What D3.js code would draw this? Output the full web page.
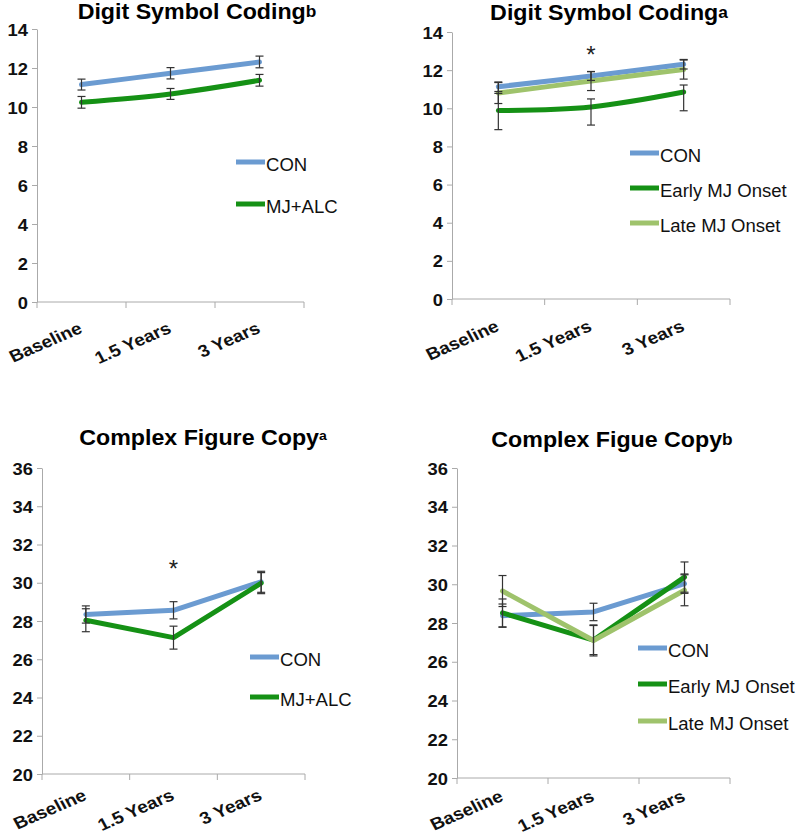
<!DOCTYPE html>
<html><head><meta charset="utf-8">
<script src="https://cdn.jsdelivr.net/npm/d3@7"></script>
<style>body{margin:0;background:#fff}svg{display:block}</style>
</head><body>
<svg id="c" width="800" height="836"></svg>
<script>
// ---------- DATA ----------
const categories = ["Baseline", "1.5 Years", "3 Years"];
const yTicksDSC = [0, 2, 4, 6, 8, 10, 12, 14];
const yTicksCFC = [20, 22, 24, 26, 28, 30, 32, 34, 36];

// Panel A: Digit Symbol Coding (b) - CON vs MJ+ALC
const dscCON = [11.15, 11.73, 12.31];
const dscCONerr = [0.28, 0.29, 0.30];
const dscMJ = [10.24, 10.67, 11.37];
const dscMJerr = [0.30, 0.28, 0.30];

// Panel B: Digit Symbol Coding (a) - CON / Early / Late
const dsc2CON = [11.13, 11.69, 12.31];
const dsc2CONup = [0.25, 0.23, 0.25];
const dsc2CONdn = [0.25, 0.23, 0.25];
const dsc2Early = [9.88, 10.07, 10.85];
const dsc2EarlyUp = [0.90, 0.42, 0.37];
const dsc2EarlyDn = [1.00, 0.95, 0.98];
const dsc2Late = [10.80, 11.43, 12.03];
const dsc2LateErr = [0.55, 0.50, 0.50];

// Panel C: Complex Figure Copy (a) - CON vs MJ+ALC
const cfcCON = [28.34, 28.56, 30.05];
const cfcCONerr = [0.45, 0.45, 0.55];
const cfcMJ = [28.04, 27.13, 29.98];
const cfcMJerr = [0.60, 0.60, 0.55];

// Panel D: Complex Figue Copy (b) - CON / Early / Late
const cfc2CON = [28.38, 28.57, 30.03];
const cfc2CONerr = [0.60, 0.45, 0.50];
const cfc2Early = [28.52, 27.12, 30.37];
const cfc2EarlyErr = [0.72, 0.75, 0.78];
const cfc2Late = [29.65, 27.10, 29.69];
const cfc2LateErr = [0.80, 0.80, 0.80];

const titles = ["Digit Symbol Coding", "Digit Symbol Coding", "Complex Figure Copy", "Complex Figue Copy"];
const titleSup = ["b", "a", "a", "b"];
const legend2 = ["CON", "MJ+ALC"];
const legend3 = ["CON", "Early MJ Onset", "Late MJ Onset"];

// ---------- STYLE ----------
const COL = { con: "#6b9bd1", early: "#159115", late: "#9fc36c" };
const FONT = "'Liberation Sans', Arial, Helvetica, sans-serif";

const svg = d3.select("#c");

function mkSeries(vals, up, dn, color) {
  return { vals, up, dn: dn || up, color };
}

const panels = [
  {
    x0: 37, x1: 304, yTop: 29, yBot: 302, domain: [0, 14], ticks: yTicksDSC,
    title: titles[0], sup: titleSup[0], titleX: 197, titleY: 19, supSize: 16, supDy: -2,
    curve: d3.curveCatmullRom, labY: 30,
    series: [mkSeries(dscCON, dscCONerr, null, COL.con), mkSeries(dscMJ, dscMJerr, null, COL.early)],
    legend: legend2, legX: 236, legY: [162, 204],
    star: null
  },
  {
    x0: 452, x1: 730, yTop: 32, yBot: 299, domain: [0, 14], ticks: yTicksDSC,
    title: titles[1], sup: titleSup[1], titleX: 609, titleY: 20, supSize: 16, supDy: -2,
    curve: d3.curveCatmullRom, labY: 31,
    series: [mkSeries(dsc2CON, dsc2CONup, dsc2CONdn, COL.con), mkSeries(dsc2Early, dsc2EarlyUp, dsc2EarlyDn, COL.early), mkSeries(dsc2Late, dsc2LateErr, null, COL.late)],
    legend: legend3, legX: 630, legY: [153, 188, 223],
    star: { cat: 1, y: 63 }
  },
  {
    x0: 42, x1: 305, yTop: 468, yBot: 774, domain: [20, 36], ticks: yTicksCFC,
    title: titles[2], sup: titleSup[2], titleX: 203, titleY: 445, supSize: 13, supDy: -5,
    curve: d3.curveLinear, labY: 25,
    series: [mkSeries(cfcCON, cfcCONerr, null, COL.con), mkSeries(cfcMJ, cfcMJerr, null, COL.early)],
    legend: legend2, legX: 250, legY: [657, 697],
    star: { cat: 1, y: 577 }
  },
  {
    x0: 457, x1: 730, yTop: 468, yBot: 778, domain: [20, 36], ticks: yTicksCFC,
    title: titles[3], sup: titleSup[3], titleX: 612, titleY: 447, supSize: 16, supDy: -2,
    curve: d3.curveLinear, labY: 22,
    series: [mkSeries(cfc2CON, cfc2CONerr, null, COL.con), mkSeries(cfc2Early, cfc2EarlyErr, null, COL.early), mkSeries(cfc2Late, cfc2LateErr, null, COL.late)],
    legend: legend3, legX: 638, legY: [648, 684, 721],
    star: null
  }
];

panels.forEach(p => {
  const g = svg.append("g");
  const x = d3.scaleBand().domain(categories).range([p.x0, p.x1]).padding(0);
  const y = d3.scaleLinear().domain(p.domain).range([p.yBot, p.yTop]);
  const cx = c => x(c) + x.bandwidth() / 2;

  // Y axis
  const yAx = g.append("g").attr("transform", `translate(${p.x0},0)`)
    .call(d3.axisLeft(y).tickValues(p.ticks).tickSize(5).tickSizeOuter(0).tickFormat(d3.format("d")));
  yAx.select(".domain").attr("stroke", "#aaaaaa");
  yAx.selectAll(".tick line").attr("stroke", "#aaaaaa");
  yAx.selectAll(".tick text").remove();
  yAx.selectAll(".tick").append("text")
    .attr("transform", "translate(-9,0) scale(1.08,1)")
    .attr("text-anchor", "end").attr("dy", "0.36em")
    .attr("fill", "#111").style("font-family", FONT).style("font-size", "17px").style("font-weight", "bold")
    .text(d => d);

  // X axis (ticks between categories)
  const xAx = g.append("g").attr("transform", `translate(0,${p.yBot})`);
  xAx.append("line").attr("x1", p.x0).attr("x2", p.x1).attr("stroke", "#aaaaaa");
  const bounds = categories.map(c => x(c)).concat([p.x1]);
  xAx.selectAll("line.tk").data(bounds).join("line").attr("class", "tk")
    .attr("x1", d => d).attr("x2", d => d).attr("y1", 0).attr("y2", 6).attr("stroke", "#aaaaaa");
  xAx.selectAll("text").data(categories).join("text")
    .attr("transform", d => `translate(${cx(d) + 2},${p.labY}) scale(1.12,1) rotate(-26)`)
    .attr("text-anchor", "end").attr("fill", "#111")
    .style("font-family", FONT).style("font-size", "17px").style("font-weight", "bold")
    .text(d => d);

  // Lines
  const line = d3.line().x((d, i) => cx(categories[i])).y(d => y(d)).curve(p.curve);
  p.series.forEach(s => {
    g.append("path").attr("d", line(s.vals)).attr("fill", "none")
      .attr("stroke", s.color).attr("stroke-width", 5).attr("stroke-linejoin", "round").attr("stroke-linecap", "round");
  });

  // Error bars
  p.series.forEach(s => {
    s.vals.forEach((v, i) => {
      const xx = cx(categories[i]);
      const yt = y(v + s.up[i]), yb = y(v - s.dn[i]);
      const eg = g.append("g").attr("stroke", "#333").attr("stroke-width", 1.2);
      eg.append("line").attr("x1", xx).attr("x2", xx).attr("y1", yt).attr("y2", yb);
      eg.append("line").attr("x1", xx - 4).attr("x2", xx + 4).attr("y1", yt).attr("y2", yt);
      eg.append("line").attr("x1", xx - 4).attr("x2", xx + 4).attr("y1", yb).attr("y2", yb);
    });
  });

  // Title
  const t = g.append("text")
    .attr("transform", `translate(${p.titleX},${p.titleY}) scale(1.08,1)`)
    .attr("text-anchor", "middle").attr("fill", "#000")
    .style("font-family", FONT).style("font-weight", "bold");
  t.append("tspan").style("font-size", "21.5px").text(p.title);
  t.append("tspan").style("font-size", p.supSize + "px").attr("dy", p.supDy).text(p.sup);

  // Legend
  p.legend.forEach((name, i) => {
    const ly = p.legY[i];
    g.append("line").attr("x1", p.legX).attr("x2", p.legX + 29).attr("y1", ly).attr("y2", ly)
      .attr("stroke", p.series[i].color).attr("stroke-width", 5);
    g.append("text")
      .attr("transform", `translate(${p.legX + 30},${ly + 9}) scale(1.06,1)`)
      .attr("fill", "#111").style("font-family", FONT).style("font-size", "17.5px")
      .text(name);
  });

  // Significance star
  if (p.star) {
    g.append("text").attr("x", cx(categories[p.star.cat])).attr("y", p.star.y)
      .attr("text-anchor", "middle").attr("fill", "#222")
      .style("font-family", FONT).style("font-size", "24px").text("*");
  }
});
</script>
</body></html>
